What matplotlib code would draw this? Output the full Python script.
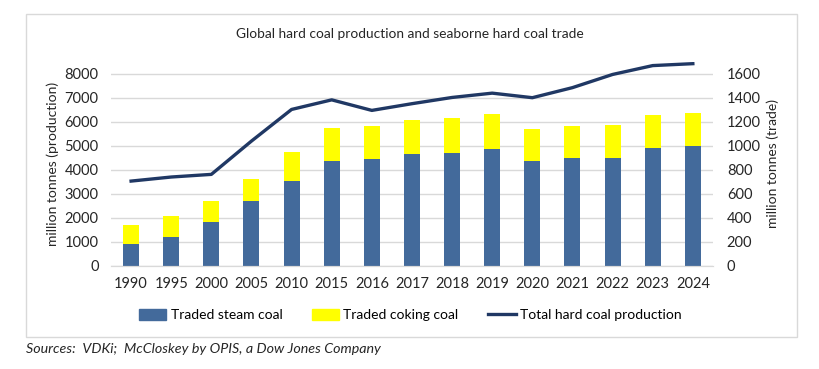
import matplotlib.pyplot as plt
import numpy as np
from matplotlib.patches import Rectangle
from matplotlib.lines import Line2D
from matplotlib.patches import Patch

plt.rcParams["font.family"] = ["Lato", "DejaVu Sans"]

years = ["1990", "1995", "2000", "2005", "2010", "2015", "2016", "2017",
         "2018", "2019", "2020", "2021", "2022", "2023", "2024"]
# seaborne trade (million tonnes, right axis)
steam = [181, 242, 365, 538, 707, 874, 891, 932, 938, 977, 877, 899, 899, 985, 997]
coking = [156, 173, 173, 186, 242, 275, 275, 284, 295, 289, 267, 267, 273, 273, 280]
# total hard coal production (million tonnes, left axis)
production = [3530, 3700, 3810, 5200, 6520, 6920, 6480, 6760, 7020, 7200,
              7010, 7430, 7980, 8350, 8430]

C_STEAM = "#436A9B"
C_COKING = "#FFFF00"
C_LINE = "#203864"
C_TEXT = "#262626"

fig = plt.figure(figsize=(8.2, 3.69), dpi=100)
fig.patches.append(Rectangle((26 / 820, 1 - 337 / 369), (797 - 26) / 820, (337 - 14) / 369,
                             transform=fig.transFigure, fill=False,
                             edgecolor="#D9D9D9", linewidth=1))

ax = fig.add_axes([0.1354, 0.28, 0.734, 0.552])
ax2 = ax.twinx()

x = np.arange(len(years))

# bars on the trade axis (drawn underneath)
ax2.bar(x, steam, width=0.4, color=C_STEAM, zorder=2)
ax2.bar(x, coking, width=0.4, bottom=steam, color=C_COKING, zorder=2)
ax2.set_ylim(0, 1700)
ax2.set_yticks(range(0, 1601, 200))
ax2.grid(axis="y", color="#D9D9D9", linewidth=1, zorder=0)
ax2.set_axisbelow(True)
ax2.set_ylabel("million tonnes (trade)", fontsize=10, color=C_TEXT)

# production line on top
ax.set_zorder(ax2.get_zorder() + 1)
ax.patch.set_visible(False)
ax.plot(x, production, color=C_LINE, linewidth=2.4, zorder=3)
ax.set_ylim(0, 8500)
ax.set_yticks(range(0, 8001, 1000))
ax.set_xlim(-0.5, len(years) - 0.5)
ax.set_xticks(x)
ax.set_xticklabels(years)
ax.set_ylabel("million tonnes (production)", fontsize=10, color=C_TEXT)

for a in (ax, ax2):
    for s in ("top", "left", "right"):
        a.spines[s].set_visible(False)
    a.spines["bottom"].set_color("#D9D9D9")
    a.tick_params(length=0, labelsize=10.5, labelcolor=C_TEXT)
ax.tick_params(axis="x", pad=8)
ax.tick_params(axis="y", pad=9)
ax2.tick_params(axis="y", pad=10)

fig.text(0.5, 1 - 34 / 369, "Global hard coal production and seaborne hard coal trade",
         ha="center", va="center", fontsize=9.9, color=C_TEXT)

handles = [Patch(color=C_STEAM, label="Traded steam coal"),
           Patch(color=C_COKING, label="Traded coking coal"),
           Line2D([0], [0], color=C_LINE, linewidth=2.4, label="Total hard coal production")]
fig.legend(handles=handles, loc="center", bbox_to_anchor=(0.5, 1 - 315 / 369), ncol=3,
           frameon=False, fontsize=10, handlelength=2.0, handleheight=0.9,
           handletextpad=0.3, columnspacing=2.1)

fig.text(26 / 820, 1 - 349 / 369, "Sources:  VDKi;  McCloskey by OPIS, a Dow Jones Company",
         ha="left", va="center", fontsize=10.3, style="italic", color=C_TEXT)

fig.savefig("out.png", dpi=100)
